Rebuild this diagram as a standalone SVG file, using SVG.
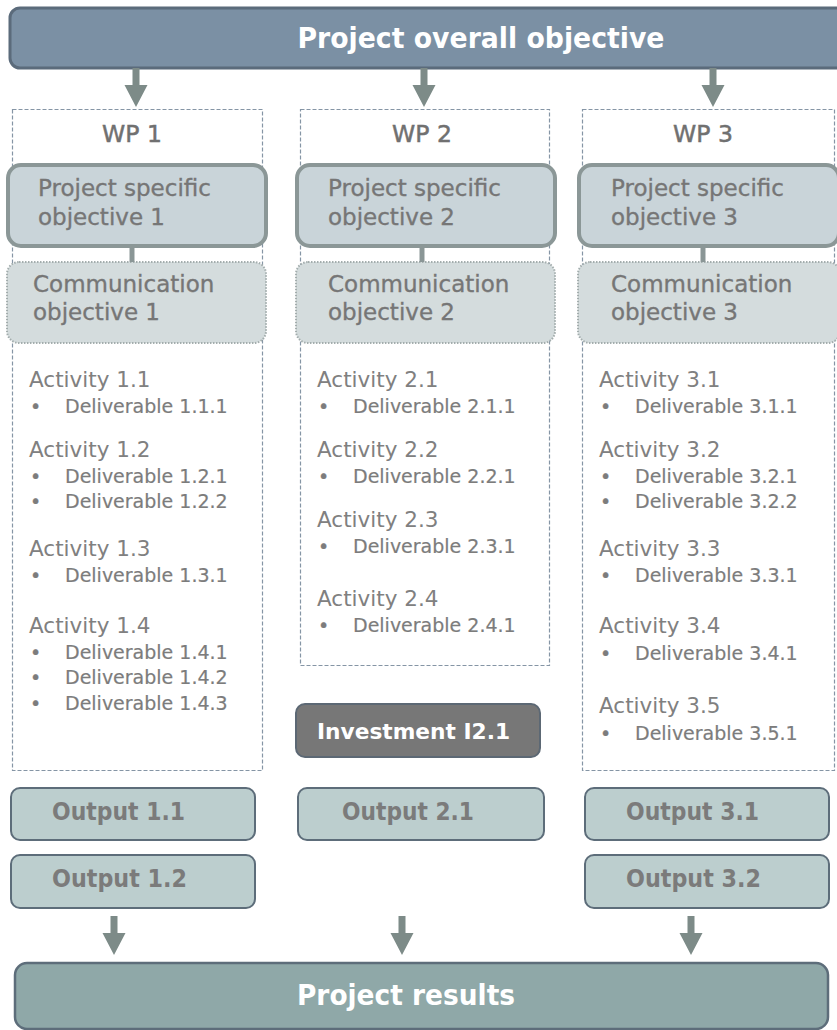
<svg xmlns="http://www.w3.org/2000/svg" xmlns:xlink="http://www.w3.org/1999/xlink" width="837" height="1030" viewBox="0 0 837 1030">
<style>
text { font-family: "DejaVu Sans", Verdana, sans-serif; }
.hdr { fill: #7b90a4; stroke: #5b6b7b; stroke-width: 3; }
.hdrt { fill: #ffffff; font-weight: bold; font-size: 29px; text-anchor: middle; }
.wp { fill: none; stroke: #8595a5; stroke-width: 1.2; stroke-dasharray: 4 2; }
.wpt { fill: #707070; stroke: #707070; stroke-width: 0.5; font-size: 23.5px; text-anchor: middle; }
.pso { fill: #c9d4d9; stroke: #8b9797; stroke-width: 4; }
.psot { fill: #767676; stroke: #767676; stroke-width: 0.35; font-size: 23px; }
.com { fill: #d4dcdd; stroke: #a3adad; stroke-width: 2; stroke-dasharray: 1.5 1.5; }
.act { fill: #808080; font-size: 21.5px; }
.del { fill: #7c7c7c; stroke: #7c7c7c; stroke-width: 0.2; font-size: 19px; }
.inv { fill: #777777; stroke: #5c6874; stroke-width: 2; }
.invt { fill: #ffffff; font-weight: bold; font-size: 22px; }
.out { fill: #bccece; stroke: #5d6d7a; stroke-width: 2; }
.outt { fill: #7b7b7b; font-weight: bold; font-size: 25px; }
.res { fill: #8fa8a8; stroke: #5d6d7a; stroke-width: 2.5; }
.rest { fill: #ffffff; font-weight: bold; font-size: 29px; text-anchor: middle; }
.arr { fill: #7d8b88; }
.lnk { stroke: #8a9696; stroke-width: 5; }
</style>
<defs>
<path id="arrow" d="M-3.5,0 H3.5 V17 H11.5 L0,39 L-11.5,17 H-3.5 Z"/>
</defs>

<g id="overall-objective">
<rect class="hdr" x="10" y="8" width="840" height="60" rx="10"/>
<text class="hdrt" x="481" y="48" textLength="367" lengthAdjust="spacingAndGlyphs">Project overall objective</text>
</g>

<g id="wp1">
<rect class="wp" x="12.5" y="109.5" width="250" height="661"/>
<text class="wpt" x="132" y="142">WP 1</text>
</g>
<g id="wp2">
<rect class="wp" x="300.5" y="109.5" width="249" height="556"/>
<text class="wpt" x="422" y="142">WP 2</text>
</g>
<g id="wp3">
<rect class="wp" x="582.5" y="109.5" width="252" height="661"/>
<text class="wpt" x="703" y="142">WP 3</text>
</g>

<g id="pso1">
<rect class="pso" x="8" y="165" width="258" height="81" rx="13"/>
<text class="psot" x="38" y="196">Project specific</text>
<text class="psot" x="38" y="225">objective 1</text>
</g>
<g id="pso2">
<rect class="pso" x="297" y="165" width="258" height="81" rx="13"/>
<text class="psot" x="328" y="196">Project specific</text>
<text class="psot" x="328" y="225">objective 2</text>
</g>
<g id="pso3">
<rect class="pso" x="579" y="165" width="260" height="81" rx="13"/>
<text class="psot" x="611" y="196">Project specific</text>
<text class="psot" x="611" y="225">objective 3</text>
</g>

<g id="com1">
<rect class="com" x="7" y="262" width="259" height="81" rx="12"/>
<text class="psot" x="33" y="292">Communication</text>
<text class="psot" x="33" y="320">objective 1</text>
</g>
<g id="com2">
<rect class="com" x="296" y="262" width="259" height="81" rx="12"/>
<text class="psot" x="328" y="292">Communication</text>
<text class="psot" x="328" y="320">objective 2</text>
</g>
<g id="com3">
<rect class="com" x="578" y="262" width="262" height="81" rx="12"/>
<text class="psot" x="611" y="292">Communication</text>
<text class="psot" x="611" y="320">objective 3</text>
</g>

<g id="activities1">
<text class="act" x="29" y="387">Activity 1.1</text>
<text class="del" x="30" y="413">•</text><text class="del" x="65" y="413">Deliverable 1.1.1</text>
<text class="act" x="29" y="457">Activity 1.2</text>
<text class="del" x="30" y="483">•</text><text class="del" x="65" y="483">Deliverable 1.2.1</text>
<text class="del" x="30" y="508">•</text><text class="del" x="65" y="508">Deliverable 1.2.2</text>
<text class="act" x="29" y="556">Activity 1.3</text>
<text class="del" x="30" y="582">•</text><text class="del" x="65" y="582">Deliverable 1.3.1</text>
<text class="act" x="29" y="633">Activity 1.4</text>
<text class="del" x="30" y="659">•</text><text class="del" x="65" y="659">Deliverable 1.4.1</text>
<text class="del" x="30" y="684">•</text><text class="del" x="65" y="684">Deliverable 1.4.2</text>
<text class="del" x="30" y="710">•</text><text class="del" x="65" y="710">Deliverable 1.4.3</text>
</g>

<g id="activities2">
<text class="act" x="317" y="387">Activity 2.1</text>
<text class="del" x="318" y="413">•</text><text class="del" x="353" y="413">Deliverable 2.1.1</text>
<text class="act" x="317" y="457">Activity 2.2</text>
<text class="del" x="318" y="483">•</text><text class="del" x="353" y="483">Deliverable 2.2.1</text>
<text class="act" x="317" y="527">Activity 2.3</text>
<text class="del" x="318" y="553">•</text><text class="del" x="353" y="553">Deliverable 2.3.1</text>
<text class="act" x="317" y="606">Activity 2.4</text>
<text class="del" x="318" y="632">•</text><text class="del" x="353" y="632">Deliverable 2.4.1</text>
</g>

<g id="activities3">
<text class="act" x="599" y="387">Activity 3.1</text>
<text class="del" x="600" y="413">•</text><text class="del" x="635" y="413">Deliverable 3.1.1</text>
<text class="act" x="599" y="457">Activity 3.2</text>
<text class="del" x="600" y="483">•</text><text class="del" x="635" y="483">Deliverable 3.2.1</text>
<text class="del" x="600" y="508">•</text><text class="del" x="635" y="508">Deliverable 3.2.2</text>
<text class="act" x="599" y="556">Activity 3.3</text>
<text class="del" x="600" y="582">•</text><text class="del" x="635" y="582">Deliverable 3.3.1</text>
<text class="act" x="599" y="633">Activity 3.4</text>
<text class="del" x="600" y="660">•</text><text class="del" x="635" y="660">Deliverable 3.4.1</text>
<text class="act" x="599" y="713">Activity 3.5</text>
<text class="del" x="600" y="740">•</text><text class="del" x="635" y="740">Deliverable 3.5.1</text>
</g>

<g id="investment">
<rect class="inv" x="296" y="704" width="244" height="53" rx="9"/>
<text class="invt" x="317" y="739" textLength="193" lengthAdjust="spacingAndGlyphs">Investment I2.1</text>
</g>

<g id="output11">
<rect class="out" x="11" y="788" width="244" height="52" rx="9"/>
<text class="outt" x="52" y="820" textLength="133" lengthAdjust="spacingAndGlyphs">Output 1.1</text>
</g>
<g id="output12">
<rect class="out" x="11" y="855" width="244" height="53" rx="9"/>
<text class="outt" x="52" y="887" textLength="135" lengthAdjust="spacingAndGlyphs">Output 1.2</text>
</g>
<g id="output21">
<rect class="out" x="298" y="788" width="246" height="52" rx="9"/>
<text class="outt" x="342" y="820" textLength="132" lengthAdjust="spacingAndGlyphs">Output 2.1</text>
</g>
<g id="output31">
<rect class="out" x="585" y="788" width="244" height="52" rx="9"/>
<text class="outt" x="626" y="820" textLength="133" lengthAdjust="spacingAndGlyphs">Output 3.1</text>
</g>
<g id="output32">
<rect class="out" x="585" y="855" width="244" height="53" rx="9"/>
<text class="outt" x="626" y="887" textLength="135" lengthAdjust="spacingAndGlyphs">Output 3.2</text>
</g>

<g id="project-results">
<rect class="res" x="15" y="963" width="813" height="66" rx="12"/>
<text class="rest" x="406" y="1005" textLength="218" lengthAdjust="spacingAndGlyphs">Project results</text>
</g>

<g id="connectors">
<use xlink:href="#arrow" class="arr" x="136" y="68"/>
<use xlink:href="#arrow" class="arr" x="424" y="68"/>
<use xlink:href="#arrow" class="arr" x="713" y="68"/>
<line class="lnk" x1="132" y1="247" x2="132" y2="262"/>
<line class="lnk" x1="422" y1="247" x2="422" y2="262"/>
<line class="lnk" x1="703" y1="247" x2="703" y2="262"/>
<use xlink:href="#arrow" class="arr" x="114" y="916"/>
<use xlink:href="#arrow" class="arr" x="402" y="916"/>
<use xlink:href="#arrow" class="arr" x="691" y="916"/>
</g>
</svg>
